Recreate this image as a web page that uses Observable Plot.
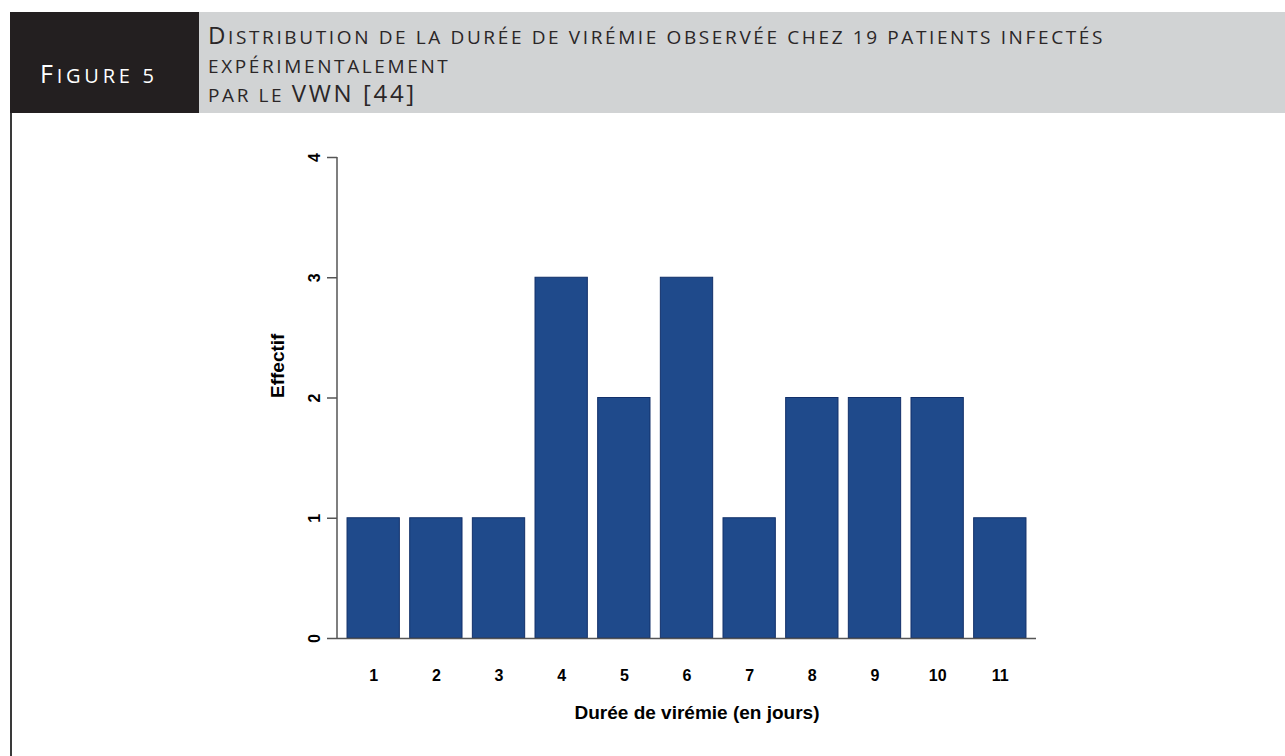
<!DOCTYPE html>
<html>
<head>
<meta charset="utf-8">
<script src="https://cdn.jsdelivr.net/npm/d3@7"></script>
<script src="https://cdn.jsdelivr.net/npm/@observablehq/plot@0.6"></script>
<style>
  html, body { margin: 0; padding: 0; background: #fff; }
  #page { position: relative; width: 1285px; height: 756px; overflow: hidden; background: #fff; }
  #header { position: absolute; left: 0; top: 0; }
  #chart { position: absolute; left: 0; top: 113px; }
  #border { position: absolute; left: 10px; top: 113px; width: 2px; height: 643px; background: #3a3a3a; }
</style>
</head>
<body>
<div id="page">
  <svg id="header" width="1285" height="113" xmlns="http://www.w3.org/2000/svg">
    <rect x="199" y="12" width="1086" height="101" fill="#d1d3d4"></rect>
    <rect x="10" y="12" width="189" height="101" fill="#231f20"></rect>
    <g font-family="'Open Sans', 'Noto Sans', sans-serif" fill="#fff">
      <text id="figlab" x="40" y="83" textLength="114" lengthAdjust="spacing"><tspan font-size="25">F</tspan><tspan font-size="20">IGURE 5</tspan></text>
    </g>
    <g font-family="'Open Sans', 'Noto Sans', sans-serif" fill="#2a2627">
      <text id="t1" x="208" y="44"><tspan font-size="24">D</tspan><tspan font-size="19">ISTRIBUTION DE LA DURÉE DE VIRÉMIE OBSERVÉE CHEZ 19 PATIENTS INFECTÉS</tspan></text>
      <text id="t2" x="208" y="73"><tspan font-size="19">EXPÉRIMENTALEMENT</tspan></text>
      <text id="t3" x="208" y="102"><tspan font-size="19">PAR LE </tspan><tspan font-size="24">VWN [44]</tspan></text>
    </g>
  </svg>
  <div id="border"></div>
  <div id="chart"></div>
</div>
<script>
// ---- data ----
const days = ["1", "2", "3", "4", "5", "6", "7", "8", "9", "10", "11"];
const counts = [1, 1, 1, 3, 2, 3, 1, 2, 2, 2, 1];
const yTicks = [0, 1, 2, 3, 4];
const xTitle = "Durée de virémie (en jours)";
const yTitle = "Effectif";

const data = days.map((d, i) => ({ day: d, count: counts[i] }));

// fit header title spacing to the reference line length
(function () {
  const t1 = document.getElementById("t1");
  const w = t1.getComputedTextLength();
  const n = t1.textContent.length;
  const ls = Math.max(0, (897 - w) / n);
  ["t1", "t2", "t3"].forEach(id => document.getElementById(id).setAttribute("letter-spacing", ls.toFixed(2)));
})();

const font = "'Liberation Sans', Arial, Helvetica, sans-serif";

const yAxisLine = (index, scales, values, dims) => {
  const y0 = scales.y(yTicks[0]);
  const y1 = scales.y(yTicks[yTicks.length - 1]);
  const g = d3.create("svg:g");
  g.append("line")
    .attr("x1", dims.marginLeft).attr("x2", dims.marginLeft)
    .attr("y1", y0).attr("y2", y1)
    .attr("stroke", "#555").attr("stroke-width", 1.5);
  return g.node();
};

const chart = Plot.plot({
  width: 1285,
  height: 643,
  marginLeft: 337,
  marginRight: 249,
  marginTop: 44,
  marginBottom: 118,
  style: { fontFamily: font, fontWeight: "bold", fontSize: "16px", color: "#000", background: "transparent", overflow: "visible" },
  x: { type: "band", domain: days, paddingInner: 0.165, paddingOuter: 0.16, round: false },
  y: { domain: [0, 4] },
  marks: [
    Plot.barY(data, { x: "day", y: "count", fill: "#1f4a8b", stroke: "#12306a", strokeWidth: 1 }),
    Plot.ruleY([0], { stroke: "#555", strokeWidth: 1.5 }),
    yAxisLine,
    Plot.axisY({ ticks: yTicks, tickSize: 10, tickRotate: -90, tickPadding: 8, stroke: "#555", strokeWidth: 1.5, label: null, tickFormat: d => String(d), fontSize: 16, fontWeight: "bold", fill: "#000" }),
    Plot.axisX({ tickSize: 0, tickPadding: 31, label: null, fontSize: 16, fontWeight: "bold", fill: "#000" }),
    Plot.text([yTitle], { text: d => d, frameAnchor: "left", rotate: -90, dx: -60, dy: 0, fontSize: 19, fontWeight: "bold", fill: "#000" }),
    Plot.text([xTitle], { text: d => d, frameAnchor: "bottom", dx: 10, dy: 80, fontSize: 19, fontWeight: "bold", fill: "#000" })
  ]
});
document.getElementById("chart").appendChild(chart);
</script>
</body>
</html>
